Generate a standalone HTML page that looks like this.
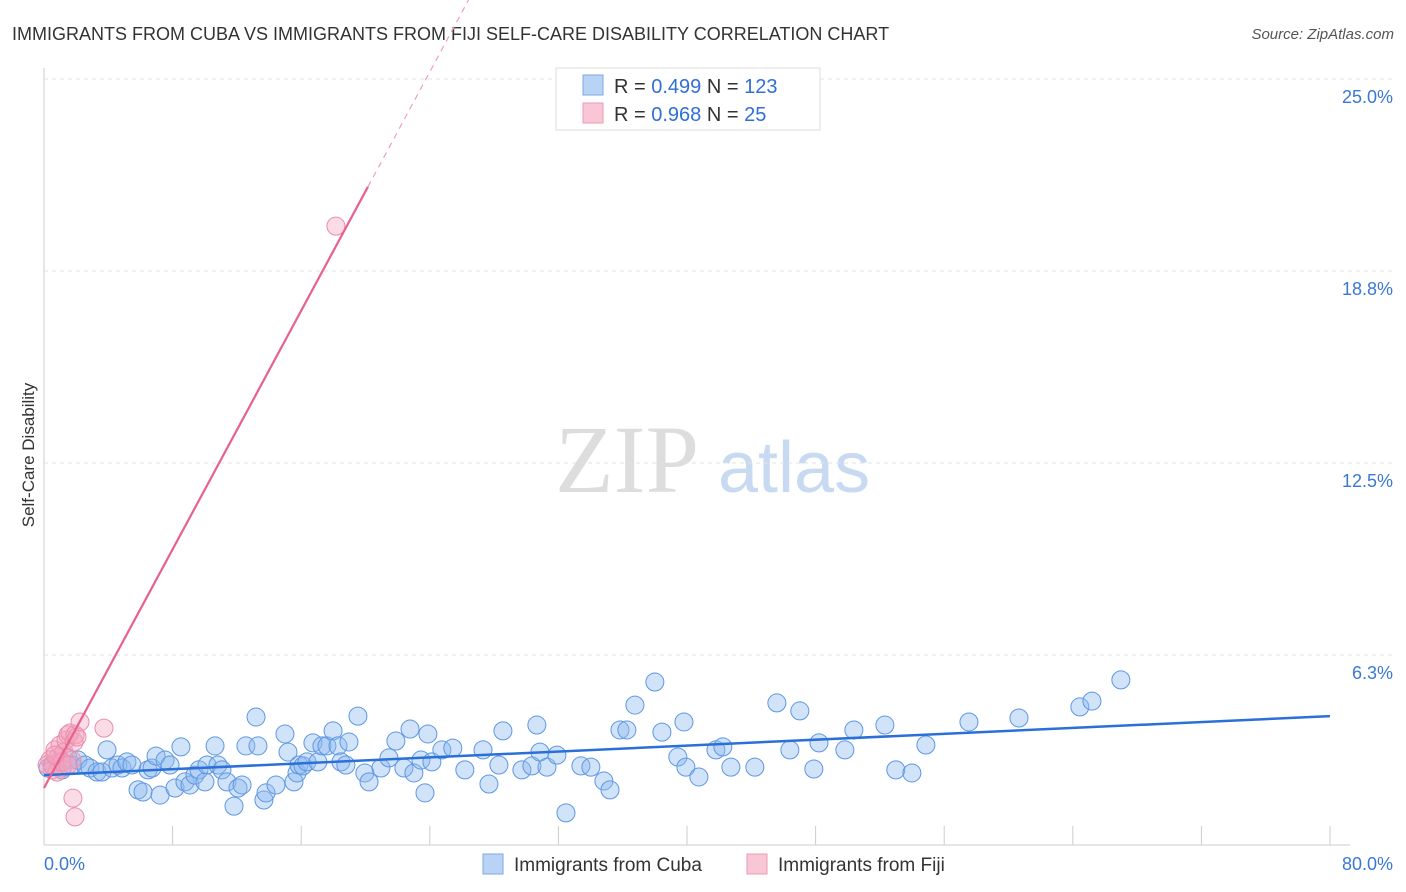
<!DOCTYPE html>
<html><head><meta charset="utf-8"><style>
body{margin:0;background:#fff;font-family:"Liberation Sans",sans-serif;}
svg{display:block}
</style></head><body>
<svg id="c" width="1406" height="892">
<text x="12" y="40" font-size="18" fill="#333">IMMIGRANTS FROM CUBA VS IMMIGRANTS FROM FIJI SELF-CARE DISABILITY CORRELATION CHART</text>
<text x="1394" y="39" font-size="15" fill="#555" font-style="italic" text-anchor="end">Source: ZipAtlas.com</text>
<text x="555" y="492" font-size="96" fill="#ddd" font-family="Liberation Serif">ZIP</text>
<text x="718" y="492" font-size="72" fill="#c8daf2">atlas</text>
<text transform="translate(34,455) rotate(-90)" font-size="17" fill="#333" text-anchor="middle">Self-Care Disability</text>
<g id="grid"></g><g id="pts"></g><g id="lines"></g>
<g>
<rect x="556" y="68" width="264" height="62" fill="#fff" stroke="#ddd"/>
<rect x="583" y="75" width="20" height="20" fill="#b9d3f5" stroke="#7aa7e6"/>
<rect x="583" y="103" width="20" height="20" fill="#f9c6d5" stroke="#ec9ab4"/>
<text x="614" y="93" font-size="20" fill="#333">R = <tspan fill="#2f6fd6">0.499</tspan>   N = <tspan fill="#2f6fd6">123</tspan></text>
<text x="614" y="121" font-size="20" fill="#333">R = <tspan fill="#2f6fd6">0.968</tspan>   N = <tspan fill="#2f6fd6">  25</tspan></text>
</g>
<g>
<rect x="483" y="854" width="20" height="20" fill="#b9d3f5" stroke="#7aa7e6"/>
<text x="514" y="871" font-size="19" fill="#333">Immigrants from Cuba</text>
<rect x="747" y="854" width="20" height="20" fill="#f9c6d5" stroke="#ec9ab4"/>
<text x="778" y="871" font-size="19" fill="#333">Immigrants from Fiji</text>
</g>
</svg>
<script>
const yTicks=[6.25,12.5,18.75,25];
const yTickLabels=["6.3%","12.5%","18.8%","25.0%"];
const xTickCount=10;
const cubaX=[0.25,0.50,0.87,1.12,1.49,1.74,2.11,2.55,2.86,3.30,3.61,3.92,4.23,4.60,4.85,5.16,5.47,5.85,6.16,6.47,6.72,6.97,7.22,7.53,7.84,8.15,8.52,8.77,9.08,9.39,9.64,10.01,10.14,10.64,10.82,11.07,11.38,11.82,12.07,12.32,12.56,13.19,13.31,13.68,13.81,14.43,14.99,15.18,15.55,15.74,15.86,16.11,16.36,16.73,17.04,17.29,17.60,17.98,18.29,18.47,18.78,18.97,19.53,19.96,20.22,20.96,21.46,21.89,22.39,22.77,23.01,23.45,23.70,23.88,24.13,24.75,25.43,26.18,27.31,27.68,28.30,28.55,29.73,30.35,30.66,30.85,31.29,31.91,32.47,33.40,34.02,34.83,35.21,35.83,36.26,36.76,38.00,38.44,39.43,39.81,39.93,40.74,41.80,42.23,42.73,44.22,45.59,46.40,47.02,47.89,48.21,49.82,50.38,52.31,52.99,53.99,54.86,57.54,60.65,64.44,65.19,66.99];
const cubaY=[2.57,2.67,2.77,2.51,2.90,2.67,2.83,2.67,2.57,2.44,2.44,3.16,2.57,2.67,2.57,2.77,2.67,1.86,1.79,2.51,2.57,2.96,1.69,2.83,2.67,1.92,3.26,2.12,2.02,2.34,2.51,2.12,2.67,3.29,2.67,2.51,2.12,1.33,1.92,2.02,3.29,4.23,3.29,1.53,1.76,2.02,3.68,3.09,2.12,2.41,2.67,2.64,2.77,3.39,2.77,3.29,3.29,3.78,3.29,2.77,2.67,3.42,4.26,2.41,2.12,2.57,2.90,3.45,2.57,3.84,2.41,2.83,1.76,3.68,2.77,3.16,3.22,2.51,3.16,2.05,2.67,3.78,2.51,2.64,3.97,3.09,2.60,2.99,1.11,2.64,2.60,2.15,1.86,3.81,3.81,4.62,5.37,3.74,2.93,4.07,2.60,2.28,3.16,3.26,2.60,2.60,4.69,3.16,4.43,2.54,3.39,3.16,3.81,3.97,2.51,2.41,3.32,4.07,4.20,4.56,4.75,5.44];
const fijiX=[0.37,0.56,0.68,0.87,1.00,1.12,1.24,1.37,1.49,1.62,1.74,1.87,1.93,2.05,2.24,3.73,1.80,1.93,18.16,0.50,0.81,0.19,1.12,1.49,0.68];
const fijiY=[2.83,2.67,3.16,2.93,3.32,2.57,3.09,3.48,3.65,3.71,2.83,3.42,3.65,3.58,4.07,3.87,1.59,0.98,20.21,2.51,2.44,2.67,2.77,2.67,2.99];
const cubaTrend=[0,2.34,80,4.26];
const fijiTrend=[0,1.92,20.15,21.49,32.3,33.3];
const X0=44,X1=1330,Y0=847,PY=192/6.25;
const sx=v=>X0+(X1-X0)*v/80, sy=v=>Y0-v*PY;
const NS="http://www.w3.org/2000/svg";
function mk(tag,attrs,parent){const e=document.createElementNS(NS,tag);for(const k in attrs)e.setAttribute(k,attrs[k]);document.getElementById(parent).appendChild(e);return e;}
// axes
let ax=mk('line',{x1:X0,y1:68,x2:X0,y2:845,stroke:'#ccc'},'grid');


let bx=mk('line',{x1:X0,y1:845,x2:X1+20,y2:845,stroke:'#ccc'},'grid');


yTicks.forEach((t,i)=>{
 let g=mk('line',{x1:X0,y1:sy(t),x2:1394,y2:sy(t),stroke:'#e2e2e2','stroke-dasharray':'4,4'},'grid');
 
 
 let l=mk('text',{x:1393,y:sy(t)+24,'font-size':18,fill:'#3a78d6','text-anchor':'end'},'grid');
 l.textContent=yTickLabels[i];
 
 
});
for(let i=1;i<=xTickCount;i++){
 let v=80*i/xTickCount;
 let t=mk('line',{x1:sx(v),y1:826,x2:sx(v),y2:845,stroke:'#ccc'},'grid');
 
 
}
let xl0=mk('text',{x:44,y:870,'font-size':18,fill:'#3a78d6'},'grid');xl0.textContent='0.0%';


let xl1=mk('text',{x:1393,y:870,'font-size':18,fill:'#3a78d6','text-anchor':'end'},'grid');xl1.textContent='80.0%';


cubaX.forEach((x,i)=>{
 let c=mk('circle',{cx:sx(x),cy:sy(cubaY[i]),r:9,fill:'rgba(140,185,240,0.4)',stroke:'#5e97e2','stroke-width':1},'pts');
 
 
});
fijiX.forEach((x,i)=>{
 let c=mk('circle',{cx:sx(x),cy:sy(fijiY[i]),r:9,fill:'rgba(245,165,192,0.4)',stroke:'#ea8dab','stroke-width':1},'pts');
 
 
});
let cl=mk('line',{x1:sx(cubaTrend[0]),y1:sy(cubaTrend[1]),x2:sx(cubaTrend[2]),y2:sy(cubaTrend[3]),stroke:'#2a70d8','stroke-width':2.5},'lines');


let fl=mk('line',{x1:sx(fijiTrend[0]),y1:sy(fijiTrend[1]),x2:sx(fijiTrend[2]),y2:sy(fijiTrend[3]),stroke:'#e8608c','stroke-width':2.2},'lines');


let fd=mk('line',{x1:sx(fijiTrend[2]),y1:sy(fijiTrend[3]),x2:sx(fijiTrend[4]),y2:sy(fijiTrend[5]),stroke:'#eea0b8','stroke-width':1.2,'stroke-dasharray':'6,5'},'lines');


</script>
</body></html>
